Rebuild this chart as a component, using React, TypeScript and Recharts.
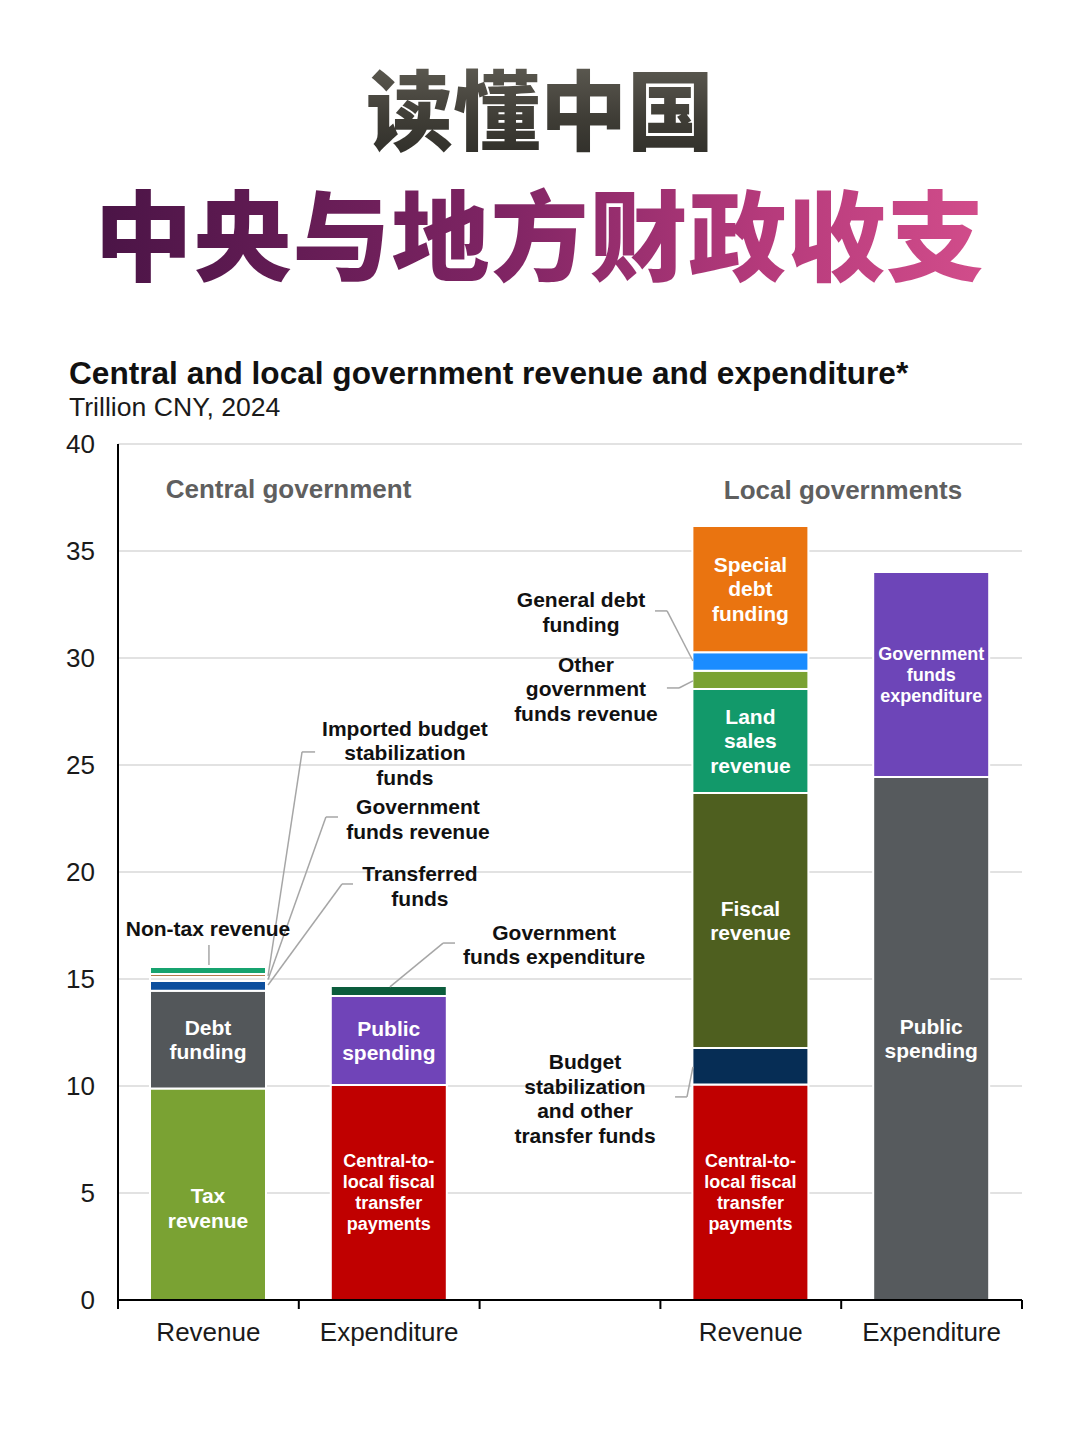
import React from 'react';
import {
  BarChart,
  Bar,
  XAxis,
  YAxis,
  CartesianGrid,
  Cell,
  LabelList,
  ReferenceDot,
  ReferenceLine,
} from 'recharts';

// ---------- data ----------
const categories = ['Revenue', 'Expenditure', '', 'Revenue', 'Expenditure'];
const yTicks = [0, 5, 10, 15, 20, 25, 30, 35, 40];
const groupLabels = ['Central government', 'Local governments'];

const centralRevenueItems = [
  'Tax revenue',
  'Debt funding',
  'Transferred funds',
  'Government funds revenue',
  'Imported budget stabilization funds',
  'Non-tax revenue',
];
const centralRevenueValues = [9.88, 4.57, 0.46, 0.18, 0.14, 0.33];
const centralRevenueInside = ['Tax\nrevenue', 'Debt\nfunding', '', '', '', ''];

const centralExpenditureItems = [
  'Central-to-local fiscal transfer payments',
  'Public spending',
  'Government funds expenditure',
];
const centralExpenditureValues = [10.05, 4.15, 0.47];
const centralExpenditureInside = ['Central-to-\nlocal fiscal\ntransfer\npayments', 'Public\nspending', ''];

const localRevenueItems = [
  'Central-to-local fiscal transfer payments',
  'Budget stabilization and other transfer funds',
  'Fiscal revenue',
  'Land sales revenue',
  'Other government funds revenue',
  'General debt funding',
  'Special debt funding',
];
const localRevenueValues = [10.07, 1.71, 11.91, 4.86, 0.86, 0.86, 5.9];
const localRevenueInside = [
  'Central-to-\nlocal fiscal\ntransfer\npayments',
  '',
  'Fiscal\nrevenue',
  'Land\nsales\nrevenue',
  '',
  '',
  'Special\ndebt\nfunding',
];

const localExpenditureItems = ['Public spending', 'Government funds expenditure'];
const localExpenditureValues = [24.44, 9.58];
const localExpenditureInside = ['Public\nspending', 'Government\nfunds\nexpenditure'];

// outside annotations (data coordinates) and their leader lines
const annotationTexts = [
  'Non-tax revenue',
  'Imported budget\nstabilization\nfunds',
  'Government\nfunds revenue',
  'Transferred\nfunds',
  'Government\nfunds expenditure',
  'General debt\nfunding',
  'Other\ngovernment\nfunds revenue',
  'Budget\nstabilization\nand other\ntransfer funds',
];
const annotationX = [0.498, 1.587, 1.659, 1.67, 2.412, 2.561, 2.588, 2.583];
const annotationY = [17.34, 25.56, 22.48, 19.35, 16.61, 32.15, 28.55, 9.42];

const leaderLines: number[][][] = [
  [[0.503, 16.59], [0.503, 15.66]],
  [[1.09, 25.61], [1.018, 25.61], [0.83, 15.14]],
  [[1.217, 22.57], [1.15, 22.57], [0.83, 14.98]],
  [[1.3, 19.44], [1.239, 19.44], [0.83, 14.72]],
  [[1.864, 16.68], [1.798, 16.68], [1.504, 14.63]],
  [[2.97, 32.2], [3.037, 32.2], [3.18, 29.86]],
  [[3.036, 28.6], [3.103, 28.6], [3.18, 28.93]],
  [[3.081, 9.49], [3.147, 9.49], [3.18, 10.89]],
];
const groupLabelX = [0.943, 4.01];
const groupLabelY = [37.9, 37.85];

// ---------- styles ----------
const centralRevenueColors = ['#7aa233', '#53575a', '#0d4f9e', '#e9e9e9', '#b27a4c', '#17a36f'];
const centralExpenditureColors = ['#c00000', '#7044b8', '#0b5c3c'];
const localRevenueColors = ['#c00000', '#062d55', '#4e5f1f', '#12996a', '#7aa233', '#1a8cff', '#ea7410'];
const localExpenditureColors = ['#565a5d', '#6d45b8'];

const FONT = '"Liberation Sans", Arial, Helvetica, sans-serif';

const barDefs = [
  { cat: 0, items: centralRevenueItems, values: centralRevenueValues, inside: centralRevenueInside, colors: centralRevenueColors },
  { cat: 1, items: centralExpenditureItems, values: centralExpenditureValues, inside: centralExpenditureInside, colors: centralExpenditureColors },
  { cat: 3, items: localRevenueItems, values: localRevenueValues, inside: localRevenueInside, colors: localRevenueColors },
  { cat: 4, items: localExpenditureItems, values: localExpenditureValues, inside: localExpenditureInside, colors: localExpenditureColors },
];

const LEVELS = Math.max(...barDefs.map((b) => b.values.length));

const rows = barDefs.map((b) => {
  const r: any = { x: b.cat + 0.5, name: categories[b.cat] };
  for (let i = 0; i < LEVELS; i++) {
    r['v' + i] = b.values[i] ?? null;
    r['t' + i] = b.inside[i] ?? '';
    r['c' + i] = b.colors[i] ?? 'none';
    r['n' + i] = b.items[i] ?? '';
  }
  return r;
});

const InsideLabel = (props: any) => {
  const vb = props.viewBox && props.viewBox.width !== undefined ? props.viewBox : props;
  const { x, y, width, height } = vb;
  const value = props.value;
  if (!value || !height) return null;
  const text = String(value);
  const lines = text.split('\n');
  const small = lines.length === 4 || text.startsWith('Government');
  const fs = small ? 18 : 21;
  const lh = small ? 21 : 24.5;
  const shift = text.startsWith('Tax') ? 14 : 0;
  const cx = x + width / 2;
  const cy = y + height / 2 + shift;
  const y0 = cy - ((lines.length - 1) * lh) / 2;
  return (
    <text textAnchor="middle" fill="#ffffff" fontFamily={FONT} fontWeight={700} fontSize={fs}>
      {lines.map((l, k) => (
        <tspan key={k} x={cx} y={y0 + k * lh} dy="0.35em">
          {l}
        </tspan>
      ))}
    </text>
  );
};

const makeMultiText = (text: string, fs: number, lh: number, fill: string) => (p: any) => {
  const lines = text.split('\n');
  const y0 = p.cy - ((lines.length - 1) * lh) / 2;
  return (
    <text textAnchor="middle" fill={fill} fontFamily={FONT} fontWeight={700} fontSize={fs}>
      {lines.map((l, k) => (
        <tspan key={k} x={p.cx} y={y0 + k * lh} dy="0.35em">
          {l}
        </tspan>
      ))}
    </text>
  );
};

const XTick = (props: any) => {
  const { x, y, payload } = props;
  const v = payload.value;
  if (Math.abs(v - Math.round(v)) < 1e-6) {
    return <line x1={x} x2={x} y1={y} y2={y + 9} stroke="#000" strokeWidth={2} />;
  }
  const label = categories[Math.floor(v)];
  if (!label) return null;
  return (
    <text x={x} y={y + 41} textAnchor="middle" fill="#1a1a1a" fontFamily={FONT} fontSize={26}>
      {label}
    </text>
  );
};

const YTick = (props: any) => {
  const { x, y, payload } = props;
  return (
    <text x={x} y={y} dy="0.36em" textAnchor="end" fill="#1a1a1a" fontFamily={FONT} fontSize={26}>
      {payload.value}
    </text>
  );
};

const xTicks = [0, 0.5, 1, 1.5, 2, 2.5, 3, 3.5, 4, 4.5, 5];

export default function App() {
  return (
    <div
      style={{
        position: 'absolute',
        left: 0,
        top: 0,
        width: 1080,
        height: 1443,
        background: '#ffffff',
        overflow: 'hidden',
      }}
    >
      <div style={{ position: 'absolute', left: 0, top: 0 }}>
        <BarChart
          width={1080}
          height={1443}
          data={rows}
          margin={{ top: 444, right: 58, bottom: 83, left: 0 }}
          barSize={116}
        >
          <CartesianGrid vertical={false} stroke="#d9d9d9" strokeWidth={1.5} />
          <XAxis
            type="number"
            dataKey="x"
            domain={[0, 5]}
            ticks={xTicks}
            interval={0}
            tickLine={false}
            tickSize={0}
            tickMargin={0}
            height={60}
            axisLine={{ stroke: '#000', strokeWidth: 2 }}
            tick={<XTick />}
            allowDecimals
          />
          <YAxis
            type="number"
            domain={[0, 40]}
            ticks={yTicks}
            interval={0}
            width={118}
            tickLine={false}
            tickSize={0}
            tickMargin={23}
            axisLine={{ stroke: '#000', strokeWidth: 2 }}
            tick={<YTick />}
          />
          {Array.from({ length: LEVELS }, (_, i) => (
            <Bar
              key={i}
              dataKey={'v' + i}
              stackId="s"
              barSize={116}
              isAnimationActive={false}
              stroke="#ffffff"
              strokeWidth={2}
            >
              {rows.map((r, j) => (
                <Cell key={j} fill={r['c' + i]} />
              ))}
              <LabelList dataKey={'t' + i} content={InsideLabel} />
            </Bar>
          ))}
          {leaderLines.flatMap((pts, li) =>
            pts.slice(1).map((pt, k) => (
              <ReferenceLine
                key={`ll-${li}-${k}`}
                segment={[
                  { x: pts[k][0], y: pts[k][1] },
                  { x: pt[0], y: pt[1] },
                ]}
                stroke="#a6a6a6"
                strokeWidth={1.5}
                ifOverflow="visible"
              />
            ))
          )}
          {annotationTexts.map((t, i) => (
            <ReferenceDot
              key={`an-${i}`}
              x={annotationX[i]}
              y={annotationY[i]}
              r={0}
              ifOverflow="visible"
              shape={makeMultiText(t, 21, 24.5, '#111111')}
            />
          ))}
          {groupLabels.map((t, i) => (
            <ReferenceDot
              key={`gl-${i}`}
              x={groupLabelX[i]}
              y={groupLabelY[i]}
              r={0}
              ifOverflow="visible"
              shape={makeMultiText(t, 26, 28, '#5f5f5f')}
            />
          ))}
        </BarChart>
      </div>

      {/* Chinese headline */}
      <div
        style={{
          position: 'absolute',
          left: 0,
          top: 60,
          width: 1080,
          textAlign: 'center',
          fontFamily: '"Noto Sans CJK SC", sans-serif',
          fontWeight: 900,
          fontSize: 87,
          lineHeight: '92px',
        }}
      >
        <span
          style={{
            background: 'linear-gradient(180deg, #67645b 0%, #3f3d36 60%, #2c2b26 100%)',
            WebkitBackgroundClip: 'text',
            backgroundClip: 'text',
            color: 'transparent',
          }}
        >
          读懂中国
        </span>
      </div>
      <div
        style={{
          position: 'absolute',
          left: 0,
          top: 177,
          width: 1080,
          textAlign: 'center',
          fontFamily: '"Noto Sans CJK SC", sans-serif',
          fontWeight: 900,
          fontSize: 98,
          lineHeight: '106px',
          letterSpacing: 1,
        }}
      >
        <span
          style={{
            background: 'linear-gradient(90deg, #4a1446 0%, #7e2463 45%, #b53a7b 75%, #d24d8b 100%)',
            WebkitBackgroundClip: 'text',
            backgroundClip: 'text',
            color: 'transparent',
          }}
        >
          中央与地方财政收支
        </span>
      </div>

      {/* Chart title */}
      <div
        style={{
          position: 'absolute',
          left: 69,
          top: 356,
          fontFamily: FONT,
          fontWeight: 700,
          fontSize: 31.6,
          lineHeight: '34px',
          color: '#111111',
          whiteSpace: 'nowrap',
        }}
      >
        Central and local government revenue and expenditure*
      </div>
      <div
        style={{
          position: 'absolute',
          left: 69,
          top: 392,
          fontFamily: FONT,
          fontSize: 26.6,
          lineHeight: '30px',
          color: '#1a1a1a',
          whiteSpace: 'nowrap',
        }}
      >
        Trillion CNY, 2024
      </div>
    </div>
  );
}
